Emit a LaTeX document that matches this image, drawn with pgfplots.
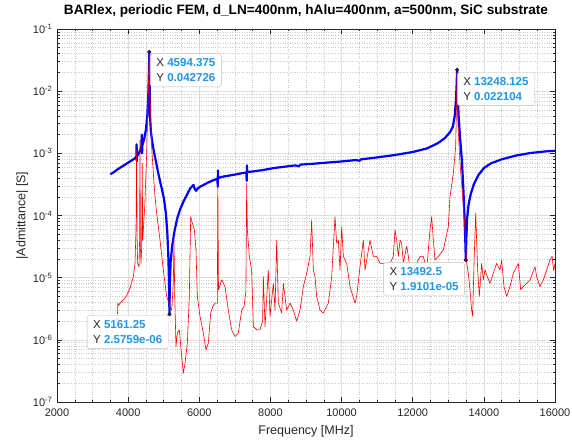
\documentclass[border=0pt]{standalone}
\usepackage{fontspec}
\setmainfont{Liberation Sans}
\usepackage{pgfplots}
\pgfplotsset{compat=1.18}
\definecolor{tipblue}{RGB}{33,150,230}
\definecolor{axgray}{RGB}{38,38,38}
\definecolor{mygrid}{RGB}{222,222,222}
\definecolor{myminor}{RGB}{200,200,200}
\begin{document}
\begin{tikzpicture}
\useasboundingbox (-57pt,-39pt) rectangle (515pt,402pt);
\begin{axis}[
  scale only axis,
  width=498pt, height=373pt,
  ymode=log,
  xmin=2000, xmax=16000,
  ymin=1e-7, ymax=1e-1,
  scaled x ticks=false,
  xtick={2000,4000,6000,8000,10000,12000,14000,16000},
  xticklabels={2000,4000,6000,8000,10000,12000,14000,16000},
  minor x tick num=3,
  ytick={1e-7,1e-6,1e-5,1e-4,1e-3,1e-2,1e-1},
  yticklabels={10\textsuperscript{-7},10\textsuperscript{-6},10\textsuperscript{-5},10\textsuperscript{-4},10\textsuperscript{-3},10\textsuperscript{-2},10\textsuperscript{-1}},
  minor ytick={2e-7,3e-7,4e-7,5e-7,6e-7,7e-7,8e-7,9e-7,
    2e-6,3e-6,4e-6,5e-6,6e-6,7e-6,8e-6,9e-6,
    2e-5,3e-5,4e-5,5e-5,6e-5,7e-5,8e-5,9e-5,
    2e-4,3e-4,4e-4,5e-4,6e-4,7e-4,8e-4,9e-4,
    2e-3,3e-3,4e-3,5e-3,6e-3,7e-3,8e-3,9e-3,
    2e-2,3e-2,4e-2,5e-2,6e-2,7e-2,8e-2,9e-2},
  grid=both,
  major grid style={draw=mygrid, line width=0.5pt},
  minor grid style={draw=myminor, dotted, line width=0.5pt},
  tick align=inside,
  major tick length=5pt,
  minor tick length=2.5pt,
  every tick/.style={draw=axgray, line width=0.5pt},
  axis line style={draw=axgray, line width=0.6pt},
  tick label style={font=\fontsize{11}{12}\selectfont, text=axgray},
  xticklabel style={yshift=-3pt},
  yticklabel style={xshift=-1pt},
  title={\bfseries BARlex, periodic FEM, d\_LN=400nm, hAlu=400nm, a=500nm, SiC substrate},
  title style={font=\fontsize{13.6}{15}\selectfont, text=black, at={(0.5,1)}, anchor=south, yshift=2pt},
  xlabel={Frequency [MHz]},
  ylabel={|Admittance| [S]},
  label style={font=\fontsize{12.5}{14}\selectfont, text=axgray},
  xlabel style={yshift=-2pt},
  ylabel style={yshift=-2pt},
]
\addplot[blue, line width=2.2pt, line join=round] coordinates {
(3500,4.6e-4)(3600,5e-4)(3700,5.5e-4)(3800,6e-4)(3900,6.5e-4)(4000,7.1e-4)(4100,7.7e-4)(4200,8.4e-4)
(4232,8.8e-4)(4238,1.4e-3)(4244,7.5e-4)(4252,9e-4)(4300,1e-3)(4370,1.25e-3)(4385,2e-3)(4392,1e-3)
(4400,1.35e-3)(4450,1.7e-3)(4500,2.4e-3)(4540,4.2e-3)(4565,8e-3)(4582,1.8e-2)(4594.375,0.042726)
(4603,1.4e-2)(4615,4e-3)(4640,2.2e-3)(4680,1.5e-3)(4720,1.1e-3)(4780,7.5e-4)(4840,5e-4)(4900,3.5e-4)
(4960,2.5e-4)(5010,1.8e-4)(5060,1.1e-4)(5100,5.5e-5)(5130,2.2e-5)(5150,8e-6)(5161.25,2.5759e-6)
(5172,8e-6)(5195,1.8e-5)(5240,3.3e-5)(5300,5.5e-5)(5380,9e-5)(5460,1.25e-4)(5560,1.7e-4)(5660,2.2e-4)
(5740,2.7e-4)(5800,2.95e-4)(5840,3.1e-4)(5870,2.7e-4)(5910,2.5e-4)(5950,2.7e-4)(6020,2.9e-4)(6120,3.1e-4)
(6250,3.4e-4)(6400,3.7e-4)(6510,3.9e-4)(6518,2.9e-4)(6524,5.3e-4)(6532,4.0e-4)(6650,4.2e-4)(6800,4.35e-4)
(7000,4.55e-4)(7200,4.8e-4)(7325,4.9e-4)(7332,3.6e-4)(7340,6.4e-4)(7348,5.0e-4)(7500,5.1e-4)(7800,5.4e-4)
(8100,5.8e-4)(8400,6.1e-4)(8700,6.4e-4)(8800,6.2e-4)(8850,6.6e-4)(9200,6.8e-4)(9600,7.1e-4)(10000,7.4e-4)
(10400,7.8e-4)(10500,7.6e-4)(10550,8.0e-4)(11000,8.6e-4)(11500,9.4e-4)(12000,1.05e-3)(12400,1.2e-3)
(12700,1.45e-3)(12900,1.75e-3)(13050,2.2e-3)(13130,2.7e-3)(13180,4e-3)(13215,7e-3)(13235,1.3e-2)
(13248.125,0.022104)(13262,1.0e-2)(13290,4e-3)(13330,1.8e-3)(13380,8e-4)(13420,3e-4)(13455,1e-4)
(13478,4e-5)(13492.5,1.9101e-5)(13505,4e-5)(13530,9e-5)(13570,1.5e-4)(13630,2.2e-4)(13720,3.2e-4)
(13850,4.5e-4)(14000,5.8e-4)(14200,6.9e-4)(14500,8e-4)(14900,9.2e-4)(15300,1.01e-3)(15700,1.07e-3)(16000,1.1e-3)
};
\addplot[red, line width=0.6pt, line join=round] coordinates {
(3700,2.6e-6)(3712,3.9e-6)(3740,3.6e-6)(3771,3.9e-6)(3865,4.4e-6)(3959,5.2e-6)(4052,6.8e-6)(4146,1.04e-5)
(4193,1.7e-5)(4221,5.9e-5)(4238,1.13e-3)(4256,3e-5)(4268,1.7e-5)(4305,1.5e-5)(4322,4e-5)(4333,1.64e-3)
(4345,3e-5)(4361,1.7e-5)(4380,3e-5)(4396,6.9e-4)(4410,4e-5)(4427,5.9e-5)(4470,1.5e-4)(4521,1e-3)
(4555,6e-3)(4580,2e-2)(4594.375,0.042726)(4615,8e-3)(4661,1.28e-3)(4708,4.8e-4)(4755,2e-4)(4802,1.09e-4)
(4896,4e-5)(4989,1.33e-5)(5083,5e-6)(5177,3.4e-6)(5224,3e-6)(5270,8e-6)(5289,4e-5)(5310,5e-6)
(5345,7.8e-7)(5383,1.28e-6)(5439,1.45e-6)(5505,5.4e-7)(5552,2.9e-7)(5598,4.2e-7)(5664,8.8e-7)(5720,5e-6)
(5758,9.6e-5)(5805,7.5e-5)(5861,5.9e-5)(5908,2.8e-5)(5945,5e-6)(6020,2.4e-6)(6114,1.28e-6)(6189,6.9e-7)
(6254,8.8e-7)(6320,2.7e-6)(6376,3.4e-6)(6442,3.9e-6)(6507,3.9e-6)(6522,3.3e-4)(6540,6.4e-6)(6629,9.2e-6)
(6723,7.2e-6)(6816,3e-6)(6910,1.45e-6)(7004,1.13e-6)(7098,1.28e-6)(7191,3e-6)(7257,3.4e-6)(7310,6e-6)
(7332,3.3e-4)(7351,5.9e-5)(7407,2.2e-5)(7472,1.33e-5)(7520,1.64e-6)(7613,1.45e-6)(7707,1.45e-6)(7780,2e-6)
(7801,1.04e-5)(7848,1.64e-6)(7941,1.33e-5)(7988,2.4e-6)(8082,8.1e-6)(8129,3e-6)(8176,4e-5)(8222,3.9e-6)
(8316,2.7e-6)(8363,8.1e-6)(8457,3e-6)(8550,3.9e-6)(8644,3e-6)(8738,2e-6)(8832,3e-6)(8925,7.2e-6)
(9019,1.18e-5)(9113,2.2e-5)(9159,8.5e-5)(9206,1.33e-5)(9253,1.04e-5)(9300,5e-6)(9394,3e-6)(9487,2.7e-6)
(9628,3.9e-6)(9722,1.04e-5)(9815,9.6e-5)(9862,3.6e-5)(9909,4e-5)(9956,1.33e-5)(10003,6.6e-5)(10050,2.2e-5)
(10143,1.7e-5)(10237,7.2e-6)(10378,3.9e-6)(10424,5e-6)(10518,1.5e-5)(10612,4e-5)(10659,1.33e-5)(10799,4e-5)
(10893,2.2e-5)(10987,2.2e-5)(11080,1.7e-5)(11174,1.7e-5)(11268,1.7e-5)(11361,1.7e-5)(11455,2.2e-5)(11502,5.9e-5)
(11549,4e-5)(11596,2.2e-5)(11643,4e-5)(11689,3.6e-5)(11736,1.7e-5)(11830,3.2e-5)(11877,2.2e-5)(11924,1.33e-5)
(12017,1.33e-5)(12111,1.7e-5)(12205,2.2e-5)(12298,2.2e-5)(12392,1.33e-5)(12486,5.9e-5)(12533,9.6e-5)(12580,4e-5)
(12626,1.93e-5)(12720,2.2e-5)(12861,2.8e-5)(13001,6.6e-5)(13048,2e-4)(13142,4.8e-4)(13207,1.28e-3)(13232,6e-3)
(13248.125,0.022104)(13270,3e-3)(13329,6.9e-4)(13404,2e-4)(13470,5.9e-5)(13517,1.7e-5)(13563,1.18e-5)(13610,6.4e-6)
(13657,3e-6)(13685,2.4e-6)(13723,1.7e-5)(13770,1.09e-4)(13826,1.33e-5)(13873,5e-6)(13938,1.7e-5)(13985,9.2e-6)
(14032,1.33e-5)(14097,1.04e-5)(14172,8.1e-6)(14266,1.18e-5)(14360,1.7e-5)(14454,1.33e-5)(14500,1.93e-5)(14566,7.2e-6)
(14641,5e-6)(14735,7.2e-6)(14828,1.18e-5)(14922,1.5e-5)(14969,1.7e-5)(15034,6.4e-6)(15109,7.2e-6)(15203,8.1e-6)
(15297,9.2e-6)(15438,1.5e-5)(15484,1.04e-5)(15578,7.2e-6)(15671,9.2e-6)(15765,1.33e-5)(15859,1.93e-5)(15920,2.2e-5)
(15960,1.3e-5)(16000,1.7e-5)
};
\addplot[only marks, mark=*, mark size=1.8pt, draw=black, fill=black!80] coordinates {
(4594.375,0.042726)(13248.125,0.022104)(5161.25,2.5759e-6)(13492.5,1.9101e-5)
};
\tikzset{tip/.style={draw=black!25, fill=white, fill opacity=0.95, text opacity=1, rounded corners=2.5pt,
  inner xsep=6pt, inner ysep=5pt, align=left, font=\fontsize{11.5}{15}\selectfont, text=axgray}}
\node[tip, anchor=north west, xshift=1pt, yshift=-1.5pt] at (axis cs:4594.375,0.042726)
  {X {\color{tipblue}\bfseries 4594.375}\\Y {\color{tipblue}\bfseries 0.042726}};
\node[tip, anchor=north west, xshift=0pt, yshift=-2.5pt] at (axis cs:13248.125,0.022104)
  {X {\color{tipblue}\bfseries 13248.125}\\Y {\color{tipblue}\bfseries 0.022104}};
\node[tip, anchor=north east, xshift=-1pt, yshift=-1pt] at (axis cs:5161.25,2.5759e-6)
  {X {\color{tipblue}\bfseries 5161.25}\\Y {\color{tipblue}\bfseries 2.5759e-06}};
\node[tip, anchor=north east, xshift=-1pt, yshift=-2pt] at (axis cs:13492.5,1.9101e-5)
  {X {\color{tipblue}\bfseries 13492.5}\\Y {\color{tipblue}\bfseries 1.9101e-05}};
\end{axis}
\end{tikzpicture}
\end{document}
